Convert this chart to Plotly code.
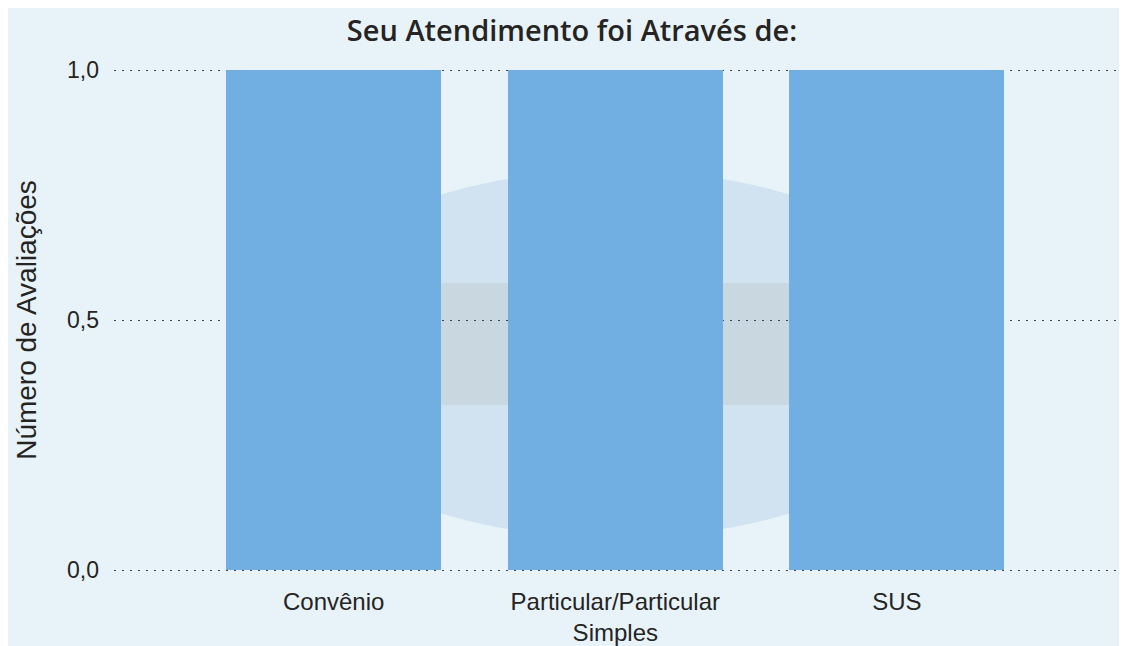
import plotly.graph_objects as go

categories = ["Convênio", "Particular/Particular<br>Simples", "SUS"]
values = [1, 1, 1]
y_ticks = [0.0, 0.5, 1.0]
y_tick_labels = ["0,0", "0,5", "1,0"]

BG = "#e8f3f9"
BAR = "#71aee1"
TXT = "#252423"

fig = go.Figure()
fig.add_trace(go.Bar(
    x=[0, 1, 2], y=values, width=0.764,
    marker=dict(color=BAR, line=dict(width=0)),
    hoverinfo="skip",
))

W, H = 1119, 638
L, T, B = 106, 57, 71

shapes = [
    # faint watermark logo in the background
    dict(type="circle", xref="x", yref="y", layer="below",
         x0=-0.24, x1=2.24, y0=0.064, y1=0.80,
         fillcolor="#d1e3f1", line=dict(width=0)),
    dict(type="rect", xref="x", yref="y", layer="below",
         x0=-0.3, x1=2.3, y0=0.33, y1=0.574,
         fillcolor="#c9d7e0", line=dict(width=0)),
]

fig.update_layout(
    width=W, height=H,
    margin=dict(l=L, r=0, t=T, b=B, pad=0),
    paper_bgcolor=BG,
    plot_bgcolor="rgba(0,0,0,0)",
    separators=",.",
    showlegend=False,
    bargap=0,
    shapes=shapes,
    title=dict(
        text="Seu Atendimento foi Através de:",
        x=564 / W, xanchor="center",
        y=1 - 23 / H, yanchor="middle",
        font=dict(family="Open Sans", size=29, color=TXT, weight=600),
    ),
    xaxis=dict(
        range=[-0.78, 2.817],
        tickmode="array", tickvals=[0, 1, 2], ticktext=categories,
        showgrid=False, zeroline=False, showline=False,
        tickfont=dict(family="Liberation Sans", size=24, color=TXT),
        ticks="", ticklabelstandoff=10,
    ),
    yaxis=dict(
        range=[-0.01, 1.01],
        tickmode="array", tickvals=y_ticks, ticktext=y_tick_labels,
        showgrid=True, gridcolor="#444444", gridwidth=1, griddash="2px,6px",
        zeroline=False, showline=False, ticks="",
        tickfont=dict(family="Liberation Sans", size=23, color=TXT),
        ticklabelstandoff=14,
        title=dict(text="Número de Avaliações",
                   font=dict(family="Liberation Sans", size=28, color=TXT),
                   standoff=22),
    ),
)

fig.write_html("out.html")
